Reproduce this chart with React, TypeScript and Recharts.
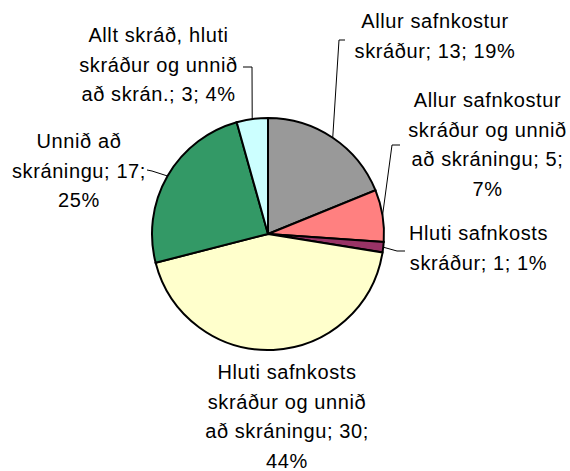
import React from "react";
import { PieChart, Pie, Cell } from "recharts";

const categories = [
  "Allur safnkostur skráður",
  "Allur safnkostur skráður og unnið að skráningu",
  "Hluti safnkosts skráður",
  "Hluti safnkosts skráður og unnið að skráningu",
  "Unnið að skráningu",
  "Allt skráð, hluti skráður og unnið að skrán.",
];

const counts = [13, 5, 1, 30, 17, 3];

const colors = ["#999999", "#FF8080", "#993366", "#FFFFCC", "#339966", "#CCFFFF"];

// label placement, relative to the pie centre (Excel style manual layout)
const labelLayout = [
  { dx: 167, dy: -206, leader: [[71, -194], [77, -194]] },
  { dx: 219.5, dy: -127, leader: [[124, -89], [132, -89]] },
  { dx: 210.5, dy: 6, leader: [[129, 17], [137, 17]] },
  { dx: 19, dy: 145, leader: [] },
  { dx: -189, dy: -86, leader: [[-116, -63], [-121, -64]] },
  { dx: -109.5, dy: -192, leader: [[-16, -167], [-25, -167]] },
];

const CX = 268;
const CY = 234;
const RADIUS = 116;
const LINE_H = 29.5;
const MAX_CHARS = 17;

// percentages rounded so they add up to 100 (largest remainder)
const total = counts.reduce((a, b) => a + b, 0);
const rawPct = counts.map((v) => (v / total) * 100);
const pct = rawPct.map((p) => Math.floor(p));
const missing = 100 - pct.reduce((a, b) => a + b, 0);
rawPct
  .map((p, i) => ({ i, r: p - Math.floor(p) }))
  .sort((a, b) => b.r - a.r)
  .slice(0, missing)
  .forEach(({ i }) => (pct[i] += 1));

const data = categories.map((name, i) => ({ name, value: counts[i], pct: pct[i] }));

const wrap = (text: string) => {
  const words = text.split(" ");
  const lines: string[] = [];
  let cur = "";
  words.forEach((w) => {
    const next = cur ? cur + " " + w : w;
    if (next.length > MAX_CHARS && cur) {
      lines.push(cur);
      cur = w;
    } else {
      cur = next;
    }
  });
  if (cur) lines.push(cur);
  return lines;
};

const RAD = Math.PI / 180;

const renderLabel = (props: any) => {
  const { index, midAngle } = props;
  const cx = props.cx ?? CX;
  const cy = props.cy ?? CY;
  const r = props.outerRadius ?? RADIUS;
  const item = data[index];
  const layout = labelLayout[index];
  const lines = wrap(`${item.name}; ${item.value}; ${item.pct}%`);
  const ex = cx + r * Math.cos(-midAngle * RAD);
  const ey = cy + r * Math.sin(-midAngle * RAD);
  const pts = [[ex, ey], ...layout.leader.map(([x, y]) => [cx + x, cy + y])];
  return (
    <g key={`lbl-${index}`}>
      {layout.leader.length > 0 && (
        <polyline
          points={pts.map((p) => p.join(",")).join(" ")}
          fill="none"
          stroke="#000"
          strokeWidth={1}
        />
      )}
      <text
        x={cx + layout.dx}
        y={cy + layout.dy}
        textAnchor="middle"
        fontFamily="'Liberation Sans', Arial, sans-serif"
        fontSize={20}
        letterSpacing={0.6}
        fill="#000"
      >
        {lines.map((l, i) => (
          <tspan key={i} x={cx + layout.dx} dy={i === 0 ? 0 : LINE_H}>
            {l}
          </tspan>
        ))}
      </text>
    </g>
  );
};

const App: React.FC = () => {
  return (
    <div style={{ position: "absolute", left: 0, top: 0, width: 570, height: 471, background: "#fff" }}>
      <PieChart width={570} height={471} margin={{ top: 0, right: 0, bottom: 0, left: 0 }}>
        <Pie
          data={data}
          dataKey="value"
          nameKey="name"
          cx={CX}
          cy={CY}
          outerRadius={RADIUS}
          startAngle={90}
          endAngle={-270}
          stroke="#000"
          strokeWidth={2}
          labelLine={false}
          label={renderLabel}
          isAnimationActive={false}
        >
          {data.map((d, i) => (
            <Cell key={d.name} fill={colors[i]} />
          ))}
        </Pie>
      </PieChart>
    </div>
  );
};

export default App;
